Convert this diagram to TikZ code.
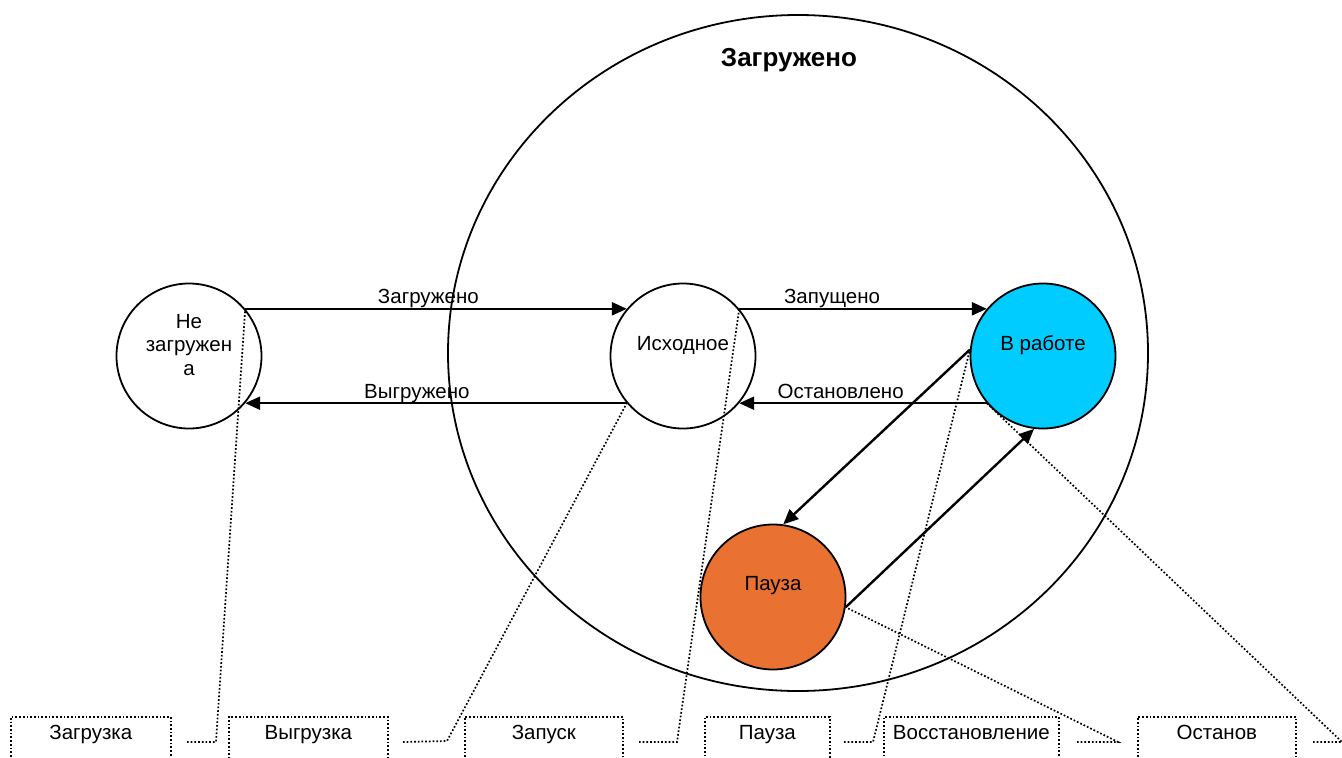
\documentclass[tikz,border=0pt]{standalone}
\usepackage{fontspec}
\setmainfont{Liberation Sans}
\usetikzlibrary{arrows.meta}
\definecolor{runcyan}{HTML}{00CCFF}
\definecolor{pauseorange}{HTML}{E97132}
\pgfdeclarelayer{bg}
\pgfsetlayers{bg,main}
\begin{document}
\begin{tikzpicture}[x=1pt,y=-1pt,
  every node/.style={font=\fontsize{20.5}{23.5}\selectfont},
  state/.style={circle, draw, line width=1.8pt, minimum size=145pt, inner sep=0pt},
  stext/.style={inner sep=0pt, align=center, yshift=11pt},
  trans/.style={line width=2.4pt, -{Triangle[length=15pt,width=13pt]}},
  tlabel/.style={inner sep=0pt, anchor=base, yshift=5pt},
  leader/.style={dotted, line width=1.7pt},
  callout/.style={draw, dotted, line width=1.7pt, inner sep=0pt,
    text height=23pt, text depth=37pt, anchor=north west}]
\useasboundingbox (0,0) rectangle (1342,758);
\clip (0,0) rectangle (1342,758);

% superstate
\draw[line width=1.8pt] (798,353) ellipse [x radius=350, y radius=338];
\node[inner sep=0pt, font=\fontsize{26}{30}\selectfont\bfseries] (title) at (789,60) {Загружено};

% states
\node[state] (ne) at (189,356) {};
\node[state] (ish) at (683,356) {};
\node[state, fill=runcyan] (vr) at (1043,356) {};
\node[state, fill=pauseorange] (pz) at (773,597) {};

\node[stext] (ne-t) at (ne) {Не\\загружен\\а};
\node[stext] (ish-t) at (ish) {Исходное};
\node[stext] (vr-t) at (vr) {В работе};
\node[stext] (pz-t) at (pz) {Пауза};

% transitions
\draw[trans] (ne.40) -- node[tlabel, pos=0.48] (l1) {Загружено} (ish.140);
\draw[trans] (ish.220) -- node[tlabel, pos=0.55] (l2) {Выгружено} (ne.-40);
\draw[trans] (ish.40) -- node[tlabel, pos=0.375] (l3) {Запущено} (vr.140);
\draw[trans] (vr.220) -- node[tlabel, pos=0.59] (l4) {Остановлено} (ish.-40);
\draw[trans] (vr.175) -- (pz.82);
\draw[trans] (pz.-8) -- (vr.-97);

% callouts
\node[callout, minimum width=160pt] (c1) at (10,716) {Загрузка};
\node[callout, minimum width=159pt] (c2) at (228,716) {Выгрузка};
\node[callout, minimum width=158pt] (c3) at (464,716) {Запуск};
\node[callout, minimum width=125pt] (c4) at (704,716) {Пауза};
\node[callout, minimum width=175pt] (c5) at (883,716) {Восстановление};
\node[callout, minimum width=158pt] (c6) at (1137,716) {Останов};

\coordinate (a1) at (187,742); \coordinate (b1) at (216,742);
\coordinate (a2) at (403,742); \coordinate (b2) at (447,741);
\coordinate (a3) at (639,742); \coordinate (b3) at (677,742);
\coordinate (a4) at (844,742); \coordinate (b4) at (873,742);
\coordinate (a5) at (1077,742); \coordinate (b5) at (1118,742);
\coordinate (a6) at (1313,742); \coordinate (b6) at (1342,742);

\begin{pgfonlayer}{bg}
\draw[leader] (a1) -- (b1) -- (ne.40);
\draw[leader] (a2) -- (b2) -- (ish.220);
\draw[leader] (a3) -- (b3) -- (ish.40);
\draw[leader] (a4) -- (b4) -- (vr.175);
\draw[leader] (a5) -- (b5) -- (pz.-8);
\draw[leader] (a6) -- (b6) -- (vr.220);
\end{pgfonlayer}
\end{tikzpicture}
\end{document}
